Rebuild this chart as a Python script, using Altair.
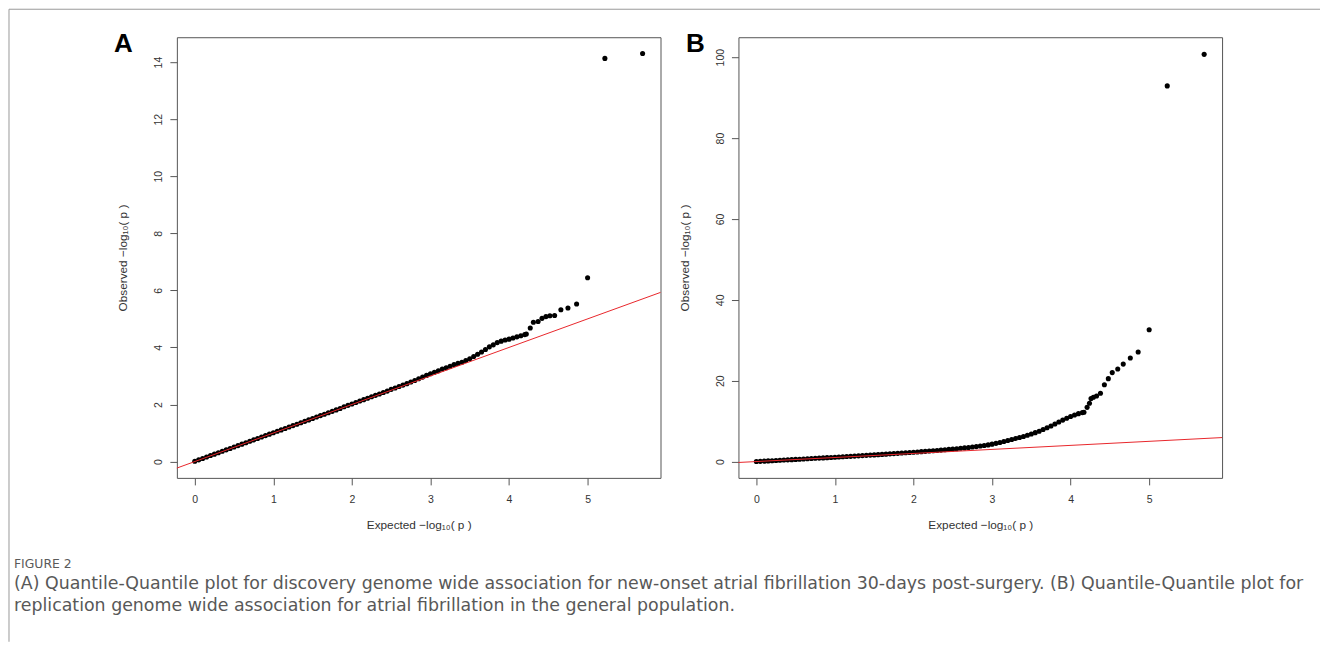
import altair as alt
import pandas as pd

# ---------------- data ----------------
a_expected = [0.00, 0.05, 0.10, 0.15, 0.20, 0.25, 0.30, 0.35, 0.40, 0.45,
              0.50, 0.55, 0.60, 0.65, 0.70, 0.75, 0.80, 0.85, 0.90, 0.95,
              1.00, 1.05, 1.10, 1.15, 1.20, 1.25, 1.30, 1.35, 1.40, 1.45,
              1.50, 1.55, 1.60, 1.65, 1.70, 1.75, 1.80, 1.85, 1.90, 1.95,
              2.00, 2.05, 2.10, 2.15, 2.20, 2.25, 2.30, 2.35, 2.40, 2.45,
              2.50, 2.55, 2.60, 2.65, 2.70, 2.75, 2.80, 2.85, 2.90, 2.95,
              3.00, 3.05, 3.10, 3.15, 3.20, 3.25, 3.30, 3.35, 3.40, 3.45,
              3.50, 3.55, 3.60, 3.65, 3.70, 3.75, 3.80, 3.85, 3.90, 3.95,
              4.00, 4.05, 4.10, 4.15, 4.20, 4.22, 4.27, 4.31, 4.37, 4.42,
              4.47, 4.52, 4.58, 4.66, 4.75, 4.86, 5.00, 5.22, 5.70]
a_observed = [0.01, 0.06, 0.11, 0.16, 0.21, 0.26, 0.31, 0.36, 0.41, 0.46,
              0.51, 0.56, 0.61, 0.66, 0.71, 0.76, 0.81, 0.86, 0.91, 0.96,
              1.01, 1.06, 1.11, 1.16, 1.21, 1.26, 1.31, 1.36, 1.41, 1.46,
              1.51, 1.56, 1.61, 1.66, 1.71, 1.76, 1.81, 1.86, 1.92, 1.97,
              2.02, 2.07, 2.12, 2.17, 2.22, 2.27, 2.32, 2.37, 2.42, 2.47,
              2.53, 2.58, 2.63, 2.68, 2.73, 2.79, 2.84, 2.90, 2.96, 3.02,
              3.08, 3.13, 3.18, 3.24, 3.29, 3.34, 3.40, 3.44, 3.48, 3.54,
              3.60, 3.68, 3.76, 3.84, 3.93, 4.02, 4.09, 4.17, 4.22, 4.26,
              4.29, 4.33, 4.37, 4.41, 4.45, 4.47, 4.68, 4.88, 4.91, 5.02,
              5.08, 5.11, 5.12, 5.32, 5.38, 5.52, 6.44, 14.13, 14.30]

b_expected = [0.00, 0.05, 0.10, 0.15, 0.20, 0.25, 0.30, 0.35, 0.40, 0.45,
              0.50, 0.55, 0.60, 0.65, 0.70, 0.75, 0.80, 0.85, 0.90, 0.95,
              1.00, 1.05, 1.10, 1.15, 1.20, 1.25, 1.30, 1.35, 1.40, 1.45,
              1.50, 1.55, 1.60, 1.65, 1.70, 1.75, 1.80, 1.85, 1.90, 1.95,
              2.00, 2.05, 2.10, 2.15, 2.20, 2.25, 2.30, 2.35, 2.40, 2.45,
              2.50, 2.55, 2.60, 2.65, 2.70, 2.75, 2.80, 2.85, 2.90, 2.95,
              3.00, 3.05, 3.10, 3.15, 3.20, 3.25, 3.30, 3.35, 3.40, 3.45,
              3.50, 3.55, 3.60, 3.65, 3.70, 3.75, 3.80, 3.85, 3.90, 3.95,
              4.00, 4.05, 4.10, 4.15, 4.17, 4.21, 4.24, 4.26, 4.29, 4.33,
              4.38, 4.43, 4.48, 4.53, 4.60, 4.67, 4.76, 4.86, 5.00, 5.23, 5.70]
b_observed = [0.00, 0.05, 0.10, 0.16, 0.21, 0.26, 0.31, 0.37, 0.42, 0.47,
              0.53, 0.58, 0.63, 0.69, 0.74, 0.80, 0.85, 0.90, 0.96, 1.01,
              1.07, 1.12, 1.18, 1.24, 1.29, 1.35, 1.41, 1.47, 1.53, 1.59,
              1.65, 1.71, 1.77, 1.83, 1.90, 1.96, 2.03, 2.10, 2.17, 2.24,
              2.31, 2.38, 2.45, 2.52, 2.60, 2.67, 2.75, 2.83, 2.91, 3.00,
              3.08, 3.17, 3.27, 3.37, 3.47, 3.58, 3.70, 3.83, 3.97, 4.12,
              4.30, 4.50, 4.72, 4.95, 5.20, 5.45, 5.70, 5.95, 6.20, 6.50,
              6.82, 7.15, 7.50, 7.92, 8.35, 8.80, 9.30, 9.78, 10.25, 10.72,
              11.15, 11.50, 11.85, 12.10, 12.20, 13.40, 14.40, 15.60, 15.90, 16.20,
              16.90, 19.00, 20.50, 22.00, 22.90, 24.10, 25.60, 27.10, 32.60, 92.90, 100.70]

x_ticks = [0, 1, 2, 3, 4, 5]
a_y_ticks = [0, 2, 4, 6, 8, 10, 12, 14]
b_y_ticks = [0, 20, 40, 60, 80, 100]
x_domain = [-0.228, 5.928]
a_y_domain = [-0.572, 14.872]
b_y_domain = [-4.04, 104.94]
ref_line = [-0.228, 5.928]

panel_labels = ["A", "B"]
x_title = "Expected  \u2212log\u2081\u2080( p )"
y_title = "Observed  \u2212log\u2081\u2080( p )"
caption_head = "FIGURE 2"
caption_lines = [
    "(A) Quantile-Quantile plot for discovery genome wide association for new-onset atrial fibrillation 30-days post-surgery. (B) Quantile-Quantile plot for",
    "replication genome wide association for atrial fibrillation in the general population.",
]

one = pd.DataFrame({"k": [0]})
W, H = 484, 441


def panel(exp, obs, ydomain, yticks, label, label_x):
    df = pd.DataFrame({"expected": exp, "observed": obs})
    x = alt.X("expected:Q",
              scale=alt.Scale(domain=x_domain, nice=False, zero=False),
              axis=alt.Axis(values=x_ticks, title=x_title, format="d"))
    y = alt.Y("observed:Q",
              scale=alt.Scale(domain=ydomain, nice=False, zero=False),
              axis=alt.Axis(values=yticks, title=y_title, format="d"))
    pts = alt.Chart(df).mark_circle(size=26, color="black", opacity=1).encode(x=x, y=y)
    line = alt.Chart(pd.DataFrame({"expected": ref_line, "observed": ref_line})).mark_line(
        color="#e8262b", strokeWidth=1).encode(x="expected:Q", y="observed:Q")
    lab = alt.Chart(one).mark_text(text=label, fontSize=26, fontWeight="bold",
                                   font="Liberation Sans", align="center",
                                   baseline="middle", color="black").encode(
        x=alt.value(label_x), y=alt.value(7))
    return [pts, line, lab]


layers_a = panel(a_expected, a_observed, a_y_domain, a_y_ticks, panel_labels[0], -53.5)
layers_b = panel(b_expected, b_observed, b_y_domain, b_y_ticks, panel_labels[1], -43)

# figure frame and caption (decoration, drawn in panel A's coordinates)
frame_v = alt.Chart(one).mark_rule(color="#9a9a9a", strokeWidth=1).encode(
    x=alt.value(-168), y=alt.value(-28), y2=alt.value(605))
frame_h = alt.Chart(one).mark_rule(color="#9a9a9a", strokeWidth=1).encode(
    x=alt.value(-168), x2=alt.value(1144), y=alt.value(-28))
cap0 = alt.Chart(one).mark_text(text=caption_head, fontSize=12.4, font="DejaVu Sans",
                                color="#5a5a5a", align="left", baseline="middle").encode(
    x=alt.value(-163), y=alt.value(527))
cap1 = alt.Chart(one).mark_text(text=caption_lines[0], fontSize=17.4, font="DejaVu Sans",
                                color="#585858", align="left", baseline="middle").encode(
    x=alt.value(-163), y=alt.value(547))
cap2 = alt.Chart(one).mark_text(text=caption_lines[1], fontSize=17.4, font="DejaVu Sans",
                                color="#585858", align="left", baseline="middle").encode(
    x=alt.value(-163), y=alt.value(569))

chart_a = alt.layer(*layers_a, frame_v, frame_h, cap0, cap1, cap2).properties(width=W, height=H)
chart_b = alt.layer(*layers_b).properties(width=W, height=H)

chart = alt.hconcat(chart_a, chart_b, spacing=78, bounds="flush", padding=0,
                    background="white").configure_axis(
    domain=False, grid=False, tickColor="#555555", tickSize=7, tickWidth=1,
    labelFont="Liberation Sans", labelFontSize=10.5, labelColor="#333333",
    titleFont="Liberation Sans", titleFontSize=11.8, titleFontWeight="normal",
    titleColor="#333333", labelOverlap=False
).configure_axisY(
    labelAngle=270, labelAlign="center", labelBaseline="bottom",
    labelPadding=6, titlePadding=25
).configure_axisX(
    labelPadding=10, titlePadding=14
).configure_view(
    stroke="#555555", strokeWidth=1
)

chart.save("out.html", embed_options={"renderer": "svg", "actions": False})
